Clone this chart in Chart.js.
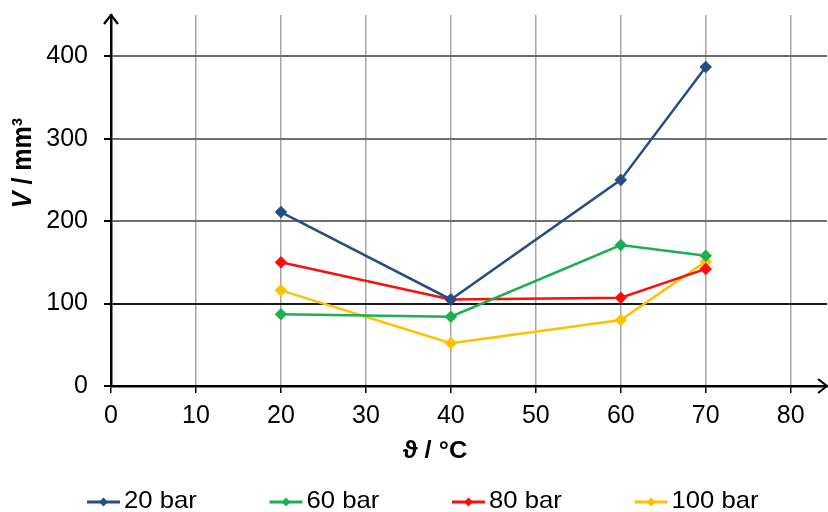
<!DOCTYPE html>
<html><head><meta charset="utf-8">
<script src="https://cdn.jsdelivr.net/npm/chart.js@4/dist/chart.umd.min.js"></script>
<style>html,body{margin:0;padding:0;background:#fff}#wrap{width:828px;height:512px}</style>
</head><body><div id="wrap"><canvas id="c" width="828" height="512"></canvas></div>
<script>
const temps = [20, 40, 60, 70];
const v20bar = [211, 105, 250, 387];
const v60bar = [87, 84, 171, 158];
const v80bar = [150, 105, 107, 142];
const v100bar = [116, 52, 80, 151];
const seriesNames = ['20 bar', '60 bar', '80 bar', '100 bar'];
const colors = ['#254e82', '#1db050', '#ff0d0d', '#ffc000'];
const xTicks = [0, 10, 20, 30, 40, 50, 60, 70, 80];
const yTicks = [0, 100, 200, 300, 400];
const xTitle = 'ϑ / °C';
const yTitleVar = 'V';
const yTitleUnit = ' / mm³';

const FONT = '"Liberation Sans", Arial, sans-serif';
const allSeries = [v20bar, v60bar, v80bar, v100bar];
const datasets = allSeries.map((vals, i) => ({
  label: seriesNames[i],
  data: temps.map((t, j) => ({x: t, y: vals[j]})),
  borderColor: colors[i], backgroundColor: colors[i],
  borderWidth: 2.5, pointStyle: 'rectRot', pointRadius: 4.5, pointHoverRadius: 4.5,
  tension: 0
}));

function diamond(ctx, x, y, r) {
  ctx.beginPath();
  ctx.moveTo(x, y - r); ctx.lineTo(x + r, y); ctx.lineTo(x, y + r); ctx.lineTo(x - r, y);
  ctx.closePath(); ctx.fill();
}

const extras = {
  id: 'extras',
  afterDraw(chart) {
    const {ctx, chartArea: a} = chart;
    ctx.save();
    // axis arrows
    ctx.strokeStyle = '#000'; ctx.lineWidth = 2.2;
    ctx.beginPath();
    ctx.moveTo(a.right - 9, a.bottom - 7); ctx.lineTo(a.right, a.bottom); ctx.lineTo(a.right - 9, a.bottom + 7);
    ctx.moveTo(a.left - 7, a.top + 9); ctx.lineTo(a.left, a.top); ctx.lineTo(a.left + 7, a.top + 9);
    ctx.stroke();
    ctx.fillStyle = '#000';
    // y axis title with italic V
    ctx.save();
    ctx.translate(23, 163);
    ctx.rotate(-Math.PI / 2);
    ctx.scale(1, 1.12);
    ctx.textBaseline = 'middle';
    const f1 = 'italic bold 25px ' + FONT, f2 = 'bold 25px ' + FONT;
    ctx.font = f1; const w1 = ctx.measureText(yTitleVar).width;
    ctx.font = f2; const w2 = ctx.measureText(yTitleUnit).width;
    const sx = -(w1 + w2) / 2;
    ctx.textAlign = 'left';
    ctx.font = f1; ctx.fillText(yTitleVar, sx, 0);
    ctx.font = f2; ctx.fillText(yTitleUnit, sx + w1, 0);
    ctx.restore();
    // x axis title
    ctx.save();
    ctx.translate(435, 451);
    ctx.scale(1.06, 1);
    ctx.font = 'bold 24px ' + FONT; ctx.textAlign = 'center'; ctx.textBaseline = 'middle';
    ctx.fillText(xTitle, 0, 0);
    ctx.restore();
    // legend
    const ly = 502;
    chart.data.datasets.forEach((d, i) => {
      const x0 = 87 + i * 182.5;
      ctx.strokeStyle = d.borderColor; ctx.fillStyle = d.borderColor; ctx.lineWidth = 3;
      ctx.beginPath(); ctx.moveTo(x0, ly); ctx.lineTo(x0 + 33, ly); ctx.stroke();
      diamond(ctx, x0 + 16.5, ly, 4.5);
      ctx.save();
      ctx.translate(x0 + 37, ly - 1);
      ctx.scale(1.07, 1);
      ctx.fillStyle = '#000'; ctx.font = '24px ' + FONT;
      ctx.textAlign = 'left'; ctx.textBaseline = 'middle';
      ctx.fillText(d.label, 0, 0);
      ctx.restore();
    });
    ctx.restore();
  }
};

function zeroPad(s) { s.paddingTop = 0; s.paddingBottom = 0; s.paddingLeft = 0; s.paddingRight = 0; }

new Chart(document.getElementById('c'), {
  type: 'line',
  data: {datasets},
  plugins: [extras],
  options: {
    responsive: false, animation: false,
    layout: {autoPadding: false, padding: {left: 0, right: 1, top: 15, bottom: 45}},
    plugins: {tooltip: {enabled: false}, legend: {display: false}},
    scales: {
      x: {
        type: 'linear', min: 0, max: 84.27,
        afterBuildTicks(s) { s.ticks = xTicks.map(v => ({value: v})); },
        ticks: {font: {family: FONT, size: 25}, color: '#000', padding: 8, maxRotation: 0},
        grid: {color: '#a6a6a6', lineWidth: 1.5, tickColor: '#000', tickLength: 7},
        border: {color: '#000', width: 2.5},
        title: {display: false},
        afterFit(s) { s.height = 81; zeroPad(s); }
      },
      y: {
        type: 'linear', min: 0, max: 450,
        afterBuildTicks(s) { s.ticks = yTicks.map(v => ({value: v})); },
        ticks: {font: {family: FONT, size: 25}, color: '#000', padding: 16},
        grid: {
          color: (c) => (c.tick && c.tick.value === 100 ? '#1a1a1a' : '#6e6e6e'),
          lineWidth: 2, tickColor: '#000', tickLength: 7
        },
        border: {color: '#000', width: 2.5},
        afterFit(s) { s.width = 111; zeroPad(s); }
      }
    }
  }
});
</script>
</body></html>
